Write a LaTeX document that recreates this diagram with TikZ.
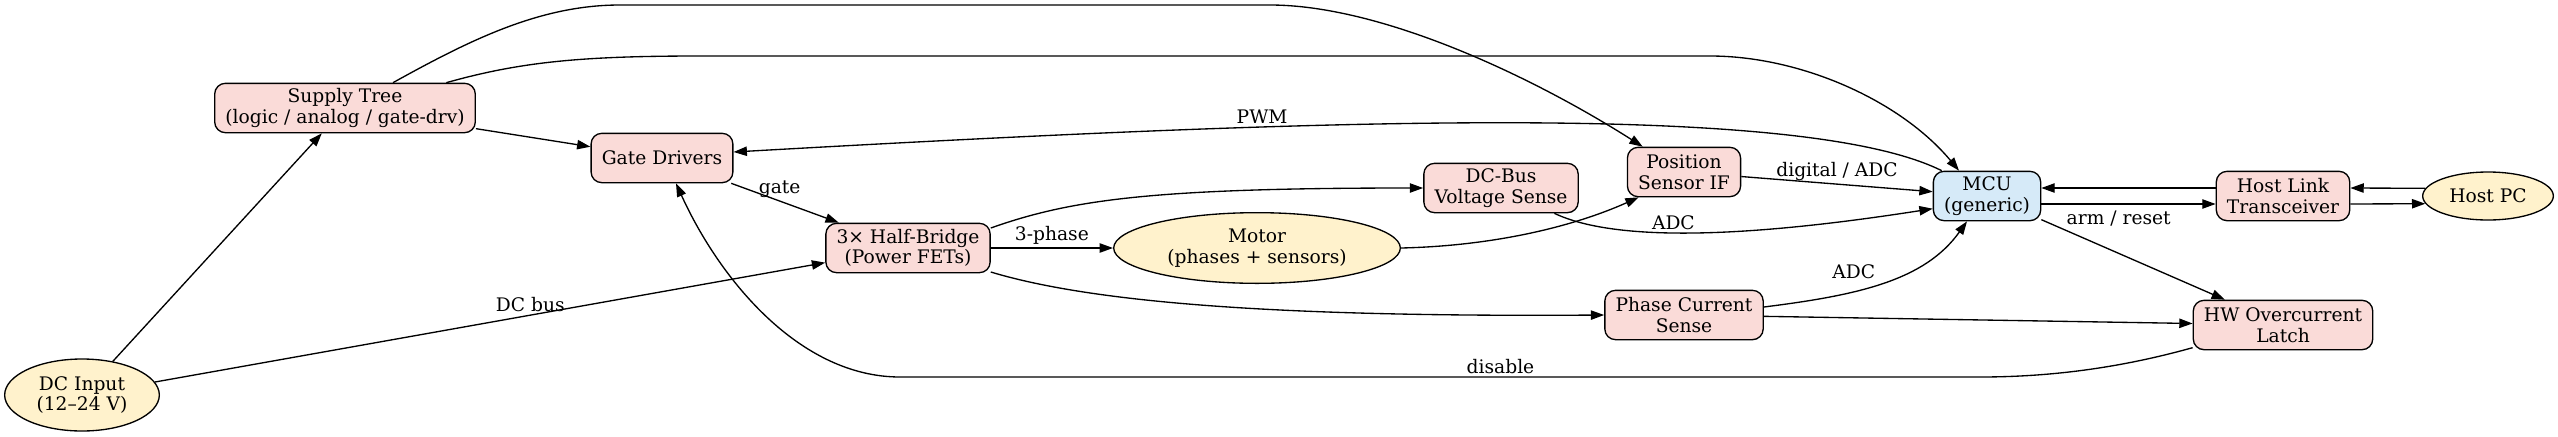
\documentclass[tikz,border=0pt]{standalone}
\usepackage{fontspec}
\setmainfont{DejaVu Serif}
\usetikzlibrary{arrows.meta}
\usetikzlibrary{shapes.geometric}
\definecolor{blockfill}{HTML}{FADBD8}
\definecolor{extfill}{HTML}{FFF2CC}
\definecolor{mcufill}{HTML}{D6EAF8}

\begin{document}
\begin{tikzpicture}[x=0.75pt, y=-0.75pt, line width=1pt, >={Triangle[length=10pt, width=7pt]},
  every node/.style={font=\fontsize{14pt}{15.5pt}\selectfont},
  block/.style={draw, rounded corners=8pt, fill=blockfill, align=center, inner xsep=8pt, inner ysep=2pt, minimum height=37pt},
  extern/.style={draw, ellipse, fill=extfill, align=center, inner sep=0pt},
  lbl/.style={inner sep=2pt}]
  \useasboundingbox (0,0) rectangle (2558,436);

  \node[extern, minimum width=116pt, minimum height=54pt] (1) at (82,395) {DC Input\\(12--24 V)};
  \node[block] (2) at (345,108) {Supply Tree\\(logic / analog / gate-drv)};
  \node[block] (3) at (662,158) {Gate Drivers};
  \node[block] (4) at (908,248) {3× Half-Bridge\\(Power FETs)};
  \node[extern, minimum width=215pt, minimum height=53pt] (5) at (1257,248) {Motor\\(phases + sensors)};
  \node[block] (6) at (1501,188) {DC-Bus\\Voltage Sense};
  \node[block] (7) at (1684,172) {Position\\Sensor IF};
  \node[block] (8) at (1684,315) {Phase Current\\Sense};
  \node[block, fill=mcufill] (9) at (1987,196) {MCU\\(generic)};
  \node[block] (10) at (2283,196) {Host Link\\Transceiver};
  \node[extern, minimum width=98pt, minimum height=36pt] (11) at (2488,196) {Host PC};
  \node[block] (12) at (2283,325) {HW Overcurrent\\Latch};

  \draw[->] (1) -- (2);
  \draw[->] (1) -- node[lbl, above, pos=0.56] {DC bus} (4);
  \draw[->] (2) -- (3);
  \draw[->] ([xshift=36pt]2.north) .. controls (470,40) and (540,5) .. (620,5) -- (1270,5) .. controls (1380,5) and (1530,75) .. ([xshift=-31pt]7.north);
  \draw[->] ([xshift=76pt]2.north) .. controls (520,62) and (580,56) .. (700,56) -- (1710,56) .. controls (1800,56) and (1900,100) .. ([xshift=-21pt]9.north);
  \draw[->] ([xshift=-34pt]9.north) .. controls (1800,100) and (1300,120) .. node[lbl, above, pos=0.67] {PWM} ([yshift=4.5pt]3.east);
  \draw[->] (3) -- node[lbl, above, pos=0.45] {gate} (4);
  \draw[->] (4) -- node[lbl, above] {3-phase} (5);
  \draw[->] ([yshift=15pt]4.east) .. controls (1070,200) and (1150,188) .. (6.west);
  \draw[->] ([yshift=-18pt]4.east) .. controls (1100,305) and (1300,317) .. (8.west);
  \draw[->] (5.east) .. controls (1490,246) and (1570,228) .. ([xshift=-34pt]7.south);
  \draw[->] (7) -- node[lbl, above] {digital / ADC} (9);
  \draw[->] ([xshift=40pt]6.south) .. controls (1600,235) and (1700,245) .. node[lbl, above, pos=0.5] {ADC} ([yshift=-9.5pt]9.west);
  \draw[->] ([yshift=6pt]8.east) .. controls (1860,295) and (1925,280) .. node[lbl, above=7pt, pos=0.35] {ADC} ([xshift=-15pt]9.south);
  \draw[->] (8) -- (12);
  \draw[->] ([yshift=-17pt]12.west) .. controls (2120,368) and (2050,377) .. (1980,377) -- node[lbl, above, pos=0.444] {disable} (900,377) .. controls (800,377) and (720,280) .. ([xshift=10.5pt]3.south);
  \draw[->] (9) -- node[lbl, pos=0.12, anchor=south west] {arm / reset} (12);
  \draw[->] ([yshift=6pt]10.west) -- ([yshift=6pt]9.east);
  \draw[->] ([yshift=-6pt]9.east) -- ([yshift=-6pt]10.west);
  \draw[->] (11.173) -- ([yshift=6pt]10.east);
  \draw[->] ([yshift=-6pt]10.east) -- (11.187);
\end{tikzpicture}
\end{document}
